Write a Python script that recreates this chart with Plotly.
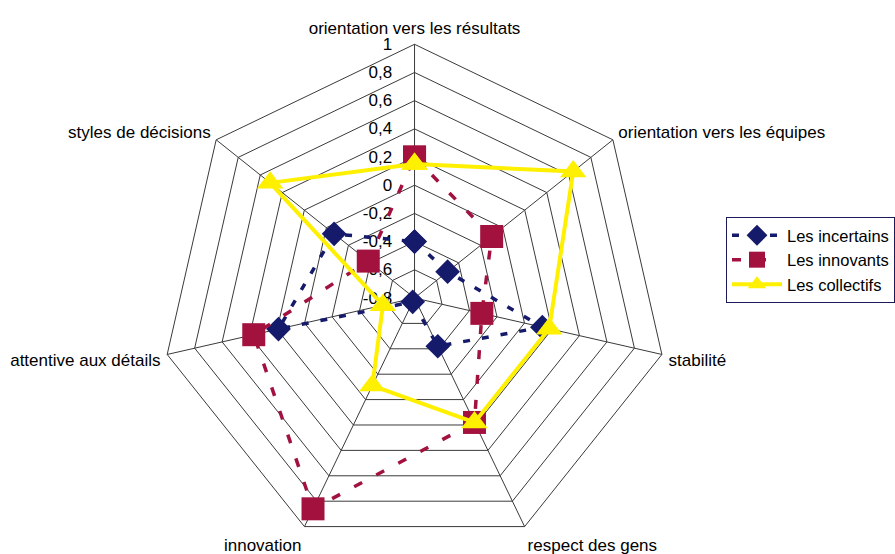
import plotly.graph_objects as go

# Seven culture dimensions, clockwise from the top
dimensions = [
    "orientation vers les résultats",
    "orientation vers les équipes",
    "stabilité",
    "respect des gens",
    "innovation",
    "attentive aux détails",
    "styles de décisions",
]

# Scores of each group on every dimension
incertains = [-0.40, -0.50, 0.13, -0.42, -0.77, 0.19, -0.07]
innovants = [0.20, -0.10, -0.31, 0.18, 0.86, 0.37, -0.38]
collectifs = [0.15, 0.64, 0.18, 0.18, -0.11, -0.57, 0.51]

# Radial scale (decimal comma), centre of the web = -0,8
radial_ticks = [-0.8, -0.6, -0.4, -0.2, 0, 0.2, 0.4, 0.6, 0.8, 1]
radial_tick_text = ["-0,8", "-0,6", "-0,4", "-0,2", "0", "0,2", "0,4", "0,6", "0,8", "1"]
R_MIN, R_MAX = -0.8, 1.0


def radial(values):
    # polar radius measured from the centre value, loop closed
    vals = [v - R_MIN for v in values]
    return vals + [vals[0]]


theta = dimensions + [dimensions[0]]

fig = go.Figure()
fig.add_trace(go.Scatterpolar(
    r=radial(incertains), theta=theta, name="Les incertains",
    mode="lines+markers", cliponaxis=False,
    line=dict(color="#151a6b", width=3.5, dash="7px,12px"),
    marker=dict(symbol="diamond", size=19, color="#151a6b"),
))
fig.add_trace(go.Scatterpolar(
    r=radial(innovants), theta=theta, name="Les innovants",
    mode="lines+markers", cliponaxis=False,
    line=dict(color="#a3123e", width=3.5, dash="9px,16px"),
    marker=dict(symbol="square", size=23, color="#a3123e"),
))
fig.add_trace(go.Scatterpolar(
    r=radial(collectifs), theta=theta, name="Les collectifs",
    mode="lines+markers", cliponaxis=False,
    line=dict(color="#fff000", width=4),
    marker=dict(symbol="triangle-up", size=23, color="#fff000"),
))

W, H = 895, 554
cx, cy, R = 415, 298, 254
FS = 17

fig.update_layout(
    width=W, height=H,
    margin=dict(l=0, r=0, t=0, b=0),
    paper_bgcolor="white",
    font=dict(family="Arial, 'Liberation Sans', sans-serif", size=FS, color="black"),
    polar=dict(
        domain=dict(x=[(cx - R) / W, (cx + R) / W],
                    y=[(H - cy - R) / H, (H - cy + R) / H]),
        gridshape="linear",
        bgcolor="white",
        angularaxis=dict(
            direction="clockwise", rotation=90,
            showline=True, linecolor="#3a3a3a", linewidth=1,
            showgrid=True, gridcolor="#3a3a3a", gridwidth=1,
            ticks="outside", ticklen=3, tickcolor="rgba(0,0,0,0)",
            tickfont=dict(size=FS, color="black"),
        ),
        radialaxis=dict(
            range=[0, R_MAX - R_MIN], angle=90,
            tickvals=[t - R_MIN for t in radial_ticks], ticktext=radial_tick_text,
            showgrid=True, gridcolor="#3a3a3a", gridwidth=1,
            showline=False, ticks="outside", ticklen=16,
            tickcolor="rgba(0,0,0,0)",
            layer="below traces",
            side="counterclockwise",
            tickangle=90,
            tickfont=dict(size=FS, color="black"),
        ),
    ),
    legend=dict(
        x=727 / W, y=1 - 217 / H, xanchor="left", yanchor="top",
        bordercolor="#1a1a5a", borderwidth=1, bgcolor="white",
        itemwidth=50,
        font=dict(size=16.5, color="black"),
    ),
)

fig.write_html("out.html")
